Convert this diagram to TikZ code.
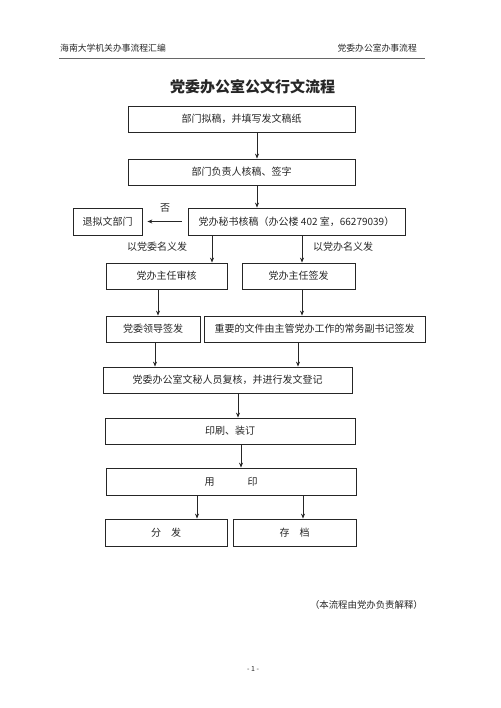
\documentclass[tikz,border=0pt]{standalone}
\usepackage{fontspec}
\setmainfont{Noto Sans CJK SC}
\usetikzlibrary{arrows.meta}
\definecolor{ink}{rgb}{0.15,0.15,0.15}

\begin{document}
\begin{tikzpicture}[x=1pt, y=-1pt,
        box/.style={draw=ink, line width=0.8pt, inner sep=0pt, minimum height=26pt, text=ink, font=\fontsize{10}{12}\selectfont},
        arr/.style={draw=ink, line width=0.8pt, -{Stealth[length=5pt, width=4pt]}},
        lbl/.style={text=ink, inner sep=0pt, font=\fontsize{10}{12}\selectfont}]
            \useasboundingbox (0,0) rectangle (500,708);

            \node[lbl, anchor=west, font=\fontsize{8.8}{10}\selectfont] (headleft) at (60,48) {海南大学机关办事流程汇编};
            \node[lbl, anchor=east, font=\fontsize{8.8}{10}\selectfont] (headright) at (417,48) {党委办公室办事流程};
            \draw[ink!70, line width=0.8pt] (59,58) -- (425,58);
            \node[lbl, font=\fontsize{15}{18}\selectfont\bfseries] (title) at (252.5,87) {党委办公室公文行文流程};

            \node[box, minimum width=227pt] (draft) at (241.5,119) {部门拟稿，并填写发文稿纸};
            \node[box, minimum width=227pt] (headsign) at (241.5,172) {部门负责人核稿、签字};
            \node[box, minimum width=217pt, minimum height=27pt] (secretary) at (296.5,221.5) {党办秘书核稿（办公楼 402 室，66279039）};
            \node[box, minimum width=69pt, minimum height=27pt] (returned) at (107.5,221.5) {退拟文部门};
            \node[box, minimum width=121pt] (directorcheck) at (166.5,276) {党办主任审核};
            \node[box, minimum width=113pt] (directorsign) at (298.5,276) {党办主任签发};
            \node[box, minimum width=94pt] (leadersign) at (153,329) {党委领导签发};
            \node[box, minimum width=221pt] (deputysign) at (314.5,329) {重要的文件由主管党办工作的常务副书记签发};
            \node[box, minimum width=249pt] (recheck) at (227.5,380) {党委办公室文秘人员复核，并进行发文登记};
            \node[box, minimum width=250pt] (printing) at (230,431) {印刷、装订};
            \node[box, minimum width=250pt, minimum height=27pt] (seal) at (231,481.5) {用\hspace{3.3em}印};
            \node[box, minimum width=122pt, minimum height=27pt] (distrib) at (166,532.5) {分\hspace{1em}发};
            \node[box, minimum width=123pt, minimum height=27pt] (archive) at (294.5,532.5) {存\hspace{1em}档};

            \node[lbl] (partyname) at (157,247) {以党委名义发};
            \node[lbl] (officename) at (343,247) {以党办名义发};

            \draw[arr] ([xshift=15.5pt]draft.south) -- ([xshift=15.5pt]headsign.north);
            \draw[arr] ([xshift=15.5pt]headsign.south) -- ([xshift=-39.5pt]secretary.north);
            \draw[arr, shorten <=6pt, shorten >=5pt] (secretary.west) -- (returned.east)
                node[lbl, midway, yshift=14pt] (no) {否};
            \draw[arr] ([xshift=-84.5pt]secretary.south) -- ([xshift=45.5pt]directorcheck.north);
            \draw[arr] ([xshift=5.5pt]secretary.south) -- ([xshift=3.5pt]directorsign.north);
            \draw[arr] ([xshift=-8.5pt]directorcheck.south) -- ([xshift=5pt]leadersign.north);
            \draw[arr] ([xshift=3.5pt]directorsign.south) -- ([xshift=-12.5pt]deputysign.north);
            \draw[arr] ([xshift=2pt]leadersign.south) -- ([xshift=-72.5pt]recheck.north);
            \draw[arr] ([xshift=-16.5pt]deputysign.south) -- ([xshift=70.5pt]recheck.north);
            \draw[arr] ([xshift=10.5pt]recheck.south) -- ([xshift=8pt]printing.north);
            \draw[arr] ([xshift=11pt]printing.south) -- ([xshift=10pt]seal.north);
            \draw[arr] ([xshift=-34pt]seal.south) -- ([xshift=31pt]distrib.north);
            \draw[arr] ([xshift=72pt]seal.south) -- ([xshift=8.5pt]archive.north);

            \node[lbl, anchor=east, font=\fontsize{9.4}{11}\selectfont] (note) at (423,605) {（本流程由党办负责解释）};
            \node[lbl, font=\fontsize{7}{8}\selectfont] (pagenum) at (253,669) {- 1 -};
        \end{tikzpicture}
\end{document}
